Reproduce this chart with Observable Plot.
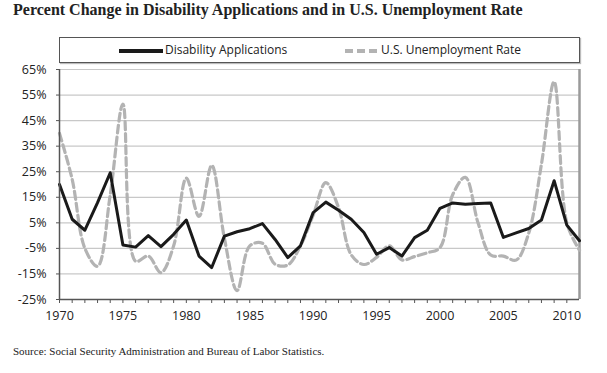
<!DOCTYPE html>
<html>
<head>
<meta charset="utf-8">
<script src="https://cdn.jsdelivr.net/npm/d3@7"></script>
<script src="https://cdn.jsdelivr.net/npm/@observablehq/plot@0.6"></script>
<style>
  html, body { margin: 0; padding: 0; background: #fff; }
  #wrap { position: relative; width: 607px; height: 373px; overflow: hidden; }
  #title { position: absolute; left: 13px; top: 1px; font-family: "Liberation Serif", serif; font-weight: bold; font-size: 16px; color: #222; white-space: nowrap; }
  #legend { position: absolute; left: 59px; top: 37px; width: 519px; height: 24px; border: 1px solid #555; box-shadow: 1px 1px 1px #bbb; font-family: "Open Sans", sans-serif; font-size: 12px; color: #222; }
  #legend .item { position: absolute; top: 3px; white-space: nowrap; line-height: 18px; }
  #legend svg { vertical-align: middle; margin-right: 2px; }
  #chart { position: absolute; left: 0; top: 62px; }
  #caption { position: absolute; left: 13px; top: 345px; font-family: "Liberation Serif", serif; font-size: 11px; color: #222; white-space: nowrap; }
</style>
</head>
<body>
<div id="wrap">
  <div id="title">Percent Change in Disability Applications and in U.S. Unemployment Rate</div>
  <div id="legend">
    <div class="item" style="left:59px"><svg width="44" height="8"><line x1="0" y1="4" x2="44" y2="4" stroke="#1a1a1a" stroke-width="4"/></svg>Disability Applications</div>
    <div class="item" style="left:285px"><svg width="34" height="8"><line x1="0" y1="4" x2="34" y2="4" stroke="#b3b3b3" stroke-width="4" stroke-dasharray="8,4"/></svg>U.S. Unemployment Rate</div>
  </div>
  <div id="chart"></div>
  <div id="caption">Source: Social Security Administration and Bureau of Labor Statistics.</div>
</div>
<script>
const years = [1970,1971,1972,1973,1974,1975,1976,1977,1978,1979,
               1980,1981,1982,1983,1984,1985,1986,1987,1988,1989,
               1990,1991,1992,1993,1994,1995,1996,1997,1998,1999,
               2000,2001,2002,2003,2004,2005,2006,2007,2008,2009,
               2010,2011];
const disability = [20, 6.4, 2.1, 12.9, 24.6, -3.7, -4.5, 0, -4.3, 0.5,
                    6.1, -8, -12.5, -0.2, 1.5, 2.7, 4.7, -1.5, -8.6, -4,
                    9, 13.1, 9.9, 6.4, 1.2, -7.3, -4.7, -8, -0.8, 2.1,
                    10.7, 12.8, 12.3, 12.6, 12.8, -0.7, 1.1, 2.8, 6.1, 21.5,
                    4.1, -2];
const unemployment = [40, 22, -5, -12, 16, 51.5, -10, -8, -14.5, -4,
                      22.5, 7.5, 27.5, -1, -21.5, -4, -3, -11.2, -11.5, -4,
                      8, 20.7, 11, -7.5, -11.3, -8.5, -4, -9.5, -8.2, -6.7,
                      -4.7, 16, 22.8, 5, -7.6, -8, -9.6, 1, 28, 60.2,
                      5, -5.7];
const yTicks = [-25, -15, -5, 5, 15, 25, 35, 45, 55, 65];
const xLabelYears = [1970, 1975, 1980, 1985, 1990, 1995, 2000, 2005, 2010];

const dis = years.map((y, i) => ({year: y, value: disability[i]}));
const unemp = years.map((y, i) => ({year: y, value: unemployment[i]}));

const chart = Plot.plot({
  width: 607,
  height: 270,
  marginLeft: 59,
  marginRight: 28,
  marginTop: 7,
  marginBottom: 33,
  style: { fontFamily: "'Open Sans', sans-serif", fontSize: "12.5px", color: "#222", background: "transparent" },
  x: { domain: [1970, 2011] },
  y: { domain: [-25, 65] },
  marks: [
    Plot.gridY(yTicks, { stroke: "#c8c8c8", strokeOpacity: 1, strokeWidth: 1.2 }),
    Plot.ruleX([2011], { stroke: "#9a9a9a", strokeWidth: 2.5 }),
    Plot.line(unemp, { x: "year", y: "value", stroke: "#b3b3b3", strokeWidth: 3.2, strokeDasharray: "8,4", curve: "catmull-rom" }),
    Plot.line(dis, { x: "year", y: "value", stroke: "#1a1a1a", strokeWidth: 3 }),
    Plot.ruleX([1970], { stroke: "#555", strokeWidth: 1.5 }),
    Plot.ruleY([-25], { stroke: "#555", strokeWidth: 1.5 }),
    Plot.axisY(yTicks, { tickSize: 3, tickPadding: 10, tickFormat: d => d + "%", label: null, stroke: "#555" }),
    Plot.axisX(years.slice(0, 41), { tickSize: 4, tickPadding: 8, label: null, stroke: "#555",
      tickFormat: d => xLabelYears.includes(d) ? String(d) : "" })
  ]
});
document.getElementById("chart").appendChild(chart);
</script>
</body>
</html>
